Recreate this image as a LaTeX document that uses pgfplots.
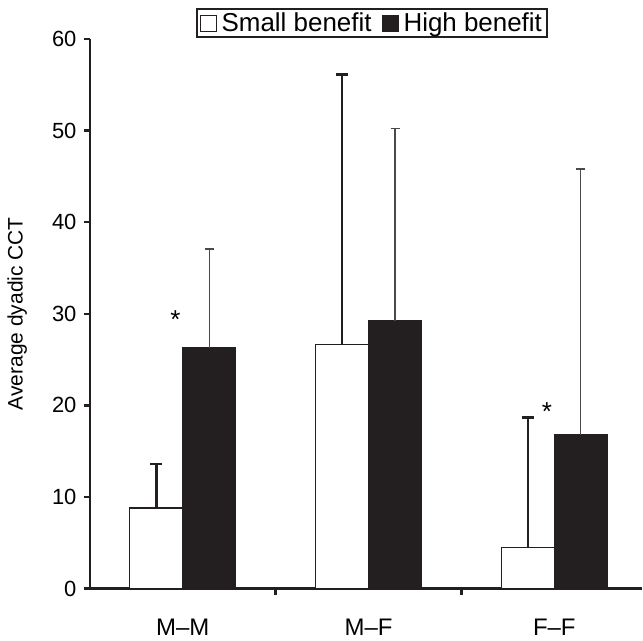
\documentclass[border=0pt]{standalone}
\usepackage{pgfplots}
\pgfplotsset{compat=1.18}
\usepackage{fontspec}
\setmainfont{Liberation Sans}
\definecolor{ink}{HTML}{231F20}
\definecolor{errgray}{HTML}{4A4A4A}

\begin{document}
\begin{tikzpicture}
\begin{axis}[
    scale only axis,
    width=553pt, height=551pt,
    clip=false,
    ybar=0pt, bar width=0.285,
    xmin=-0.5, xmax=2.47,
    ymin=0, ymax=60,
    axis x line=bottom, axis y line=left,
    axis line style={-, line width=2.8pt, ink},
    tick align=outside,
    major tick length=6pt,
    tick style={line width=2.5pt, ink},
    xtick={0.5,1.5}, xticklabels={},
    extra x ticks={0,1,2},
    extra x tick labels={M--M, M--F, F--F},
    extra x tick style={major tick length=0pt,
        xticklabel style={yshift=-27pt, font=\fontsize{24}{26}\selectfont}},
    ytick={0,10,...,60},
    yticklabel style={xshift=-4pt, font=\fontsize{22}{24}\selectfont},
    /pgf/number format/assume math mode=true,
    ylabel={Average dyadic CCT},
    ylabel style={at={(axis description cs:-0.132,0.5)}, anchor=center,
        font=\fontsize{21}{24}\selectfont},
    legend columns=2,
    legend style={at={(0.511,1.056)}, anchor=north,
        draw=ink, line width=2pt,
        font=\fontsize{26}{30}\selectfont,
        inner xsep=3pt, inner ysep=2pt,
        /tikz/every odd column/.append style={column sep=3pt},
        /tikz/every even column/.append style={column sep=8pt}},
    legend image code/.code={
        \draw[#1, line width=1pt] (0pt,-8pt) rectangle (16pt,8pt);},
]
\addplot[fill=white, draw=ink, line width=1.2pt,
    error bars/.cd, y dir=plus, y explicit,
    error bar style={line width=2.4pt, draw=ink},
    error mark options={rotate=90, mark size=6pt, line width=3pt, draw=ink}]
    coordinates {
    (0,8.8) +- (0,4.8)
    (1,26.6) +- (0,29.5)
    (2,4.5) +- (0,14.2)
    };
\addplot[fill=ink, draw=ink, line width=1.2pt,
    error bars/.cd, y dir=plus, y explicit,
    error bar style={line width=1.2pt, draw=errgray},
    error mark options={rotate=90, mark size=4.5pt, line width=1.6pt, draw=errgray}]
    coordinates {
    (0,26.3) +- (0,10.8)
    (1,29.2) +- (0,21.0)
    (2,16.8) +- (0,29.0)
    };
\legend{Small benefit, High benefit}
\node[font=\fontsize{26}{26}\selectfont] at (axis cs:-0.04,29.4) {*};
\node[font=\fontsize{26}{26}\selectfont] at (axis cs:1.96,19.3) {*};
% frame of the whole picture, as in the reference
\path (axis description cs:-0.163,-0.0944) rectangle (axis description cs:1,1.0708);
\end{axis}
\end{tikzpicture}
\end{document}
